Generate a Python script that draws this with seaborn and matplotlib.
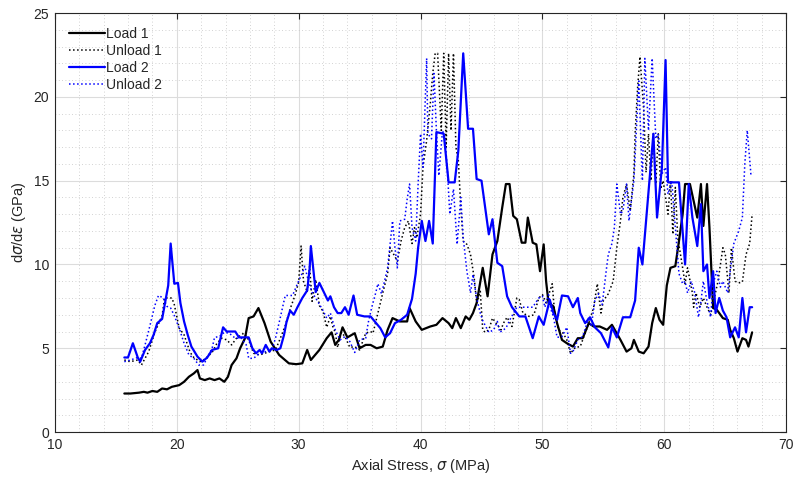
import numpy as np
import pandas as pd
import matplotlib
matplotlib.use("Agg")
import matplotlib.pyplot as plt
from matplotlib.ticker import MultipleLocator
import seaborn as sns

# ---------------- data ----------------
load1_x = [15.7, 16.2, 16.9, 17.3, 17.6, 18.0, 18.4, 18.8, 19.2, 19.6, 20.2, 20.6, 21.0, 21.4, 21.7, 21.9,
           22.3, 22.7, 23.1, 23.5, 23.9, 24.2, 24.5, 24.9, 25.2, 25.6, 25.9, 26.3, 26.7, 27.2, 27.7, 28.4,
           29.2, 29.8, 30.3, 30.7, 31.0, 31.7, 32.3, 32.7, 33.0, 33.3, 33.6, 34.0, 34.6, 35.0, 35.5, 35.9,
           36.4, 36.9, 37.3, 37.7, 38.3, 38.9, 39.1, 39.6, 40.1, 40.8, 41.3, 41.8, 42.3, 42.6, 42.9, 43.3,
           43.7, 44.0, 44.3, 44.6, 45.1, 45.5, 45.9, 46.3, 46.7, 47.0, 47.3, 47.6, 47.9, 48.3, 48.6, 48.8,
           49.2, 49.5, 49.8, 50.1, 50.3, 50.5, 50.9, 51.2, 51.6, 52.0, 52.5, 52.9, 53.3, 53.8, 54.2, 54.7,
           55.3, 55.7, 56.4, 56.9, 57.3, 57.5, 57.9, 58.3, 58.7, 59.0, 59.3, 59.6, 59.9, 60.2, 60.5, 60.9,
           61.2, 61.5, 61.7, 62.1, 62.4, 62.7, 63.0, 63.2, 63.5, 63.7, 63.9, 64.0, 64.3, 64.8, 65.2, 65.4,
           65.7, 66.0, 66.4, 66.7, 66.9, 67.2]
load1_y = [2.3, 2.3, 2.35, 2.4, 2.35, 2.45, 2.4, 2.6, 2.55, 2.7, 2.8, 3.0, 3.3, 3.5, 3.7, 3.2,
           3.1, 3.2, 3.1, 3.2, 3.0, 3.3, 4.0, 4.4, 5.0, 5.6, 6.8, 6.9, 7.4, 6.5, 5.4, 4.6,
           4.1, 4.05, 4.1, 4.9, 4.3, 4.9, 5.6, 5.95, 5.2, 5.5, 6.25, 5.65, 5.9, 5.0, 5.2, 5.2,
           5.0, 5.1, 6.1, 6.8, 6.6, 6.6, 7.4, 6.6, 6.1, 6.3, 6.4, 6.8, 6.5, 6.2, 6.8, 6.2,
           6.9, 6.7, 7.1, 7.7, 9.8, 8.1, 10.6, 11.4, 13.4, 14.8, 14.8, 12.9, 12.7, 11.3, 11.3, 12.8,
           11.3, 11.2, 9.6, 11.2, 9.0, 7.7, 7.5, 6.5, 5.5, 5.3, 5.1, 5.6, 5.6, 6.5, 6.3, 6.3,
           6.1, 6.4, 5.5, 4.8, 5.0, 5.5, 4.8, 4.7, 5.1, 6.5, 7.4, 6.7, 6.4, 8.75, 9.8, 9.9,
           11.4, 13.0, 14.8, 14.8, 13.8, 12.8, 14.8, 12.3, 14.8, 12.2, 9.0, 7.4, 7.3, 6.8, 6.7, 6.1,
           5.6, 4.8, 5.6, 5.5, 5.1, 5.95]

unload1_x = [15.7, 16.2, 16.8, 17.1, 17.7, 18.2, 18.8, 19.0, 19.6, 19.8, 20.2, 20.6, 21.1, 21.4, 21.9, 22.3,
             22.9, 23.3, 23.7, 24.1, 24.5, 24.9, 25.5, 25.9, 26.3, 26.8, 27.2, 27.6, 28.1, 28.5, 28.9, 29.3,
             29.7, 30.0, 30.2, 30.4, 30.7, 30.9, 31.1, 31.4, 31.7, 32.0, 32.3, 32.6, 32.8, 33.0, 33.2, 33.5,
             33.8, 34.2, 34.6, 35.0, 35.5, 35.9, 36.1, 36.5, 36.9, 37.3, 37.5, 37.8, 38.1, 38.4, 38.7, 39.0,
             39.3, 39.5, 39.7, 40.0, 40.2, 40.5, 40.8, 41.0, 41.2, 41.4, 41.7, 41.9, 42.1, 42.3, 42.5, 42.7,
             42.9, 43.1, 43.3, 43.5, 43.8, 44.1, 44.4, 44.6, 44.9, 45.1, 45.3, 45.6, 45.9, 46.3, 46.6, 46.8,
             47.1, 47.5, 47.9, 48.1, 48.4, 48.9, 49.3, 49.7, 50.0, 50.3, 50.8, 51.0, 51.3, 51.7, 52.0, 52.3,
             52.7, 53.1, 53.5, 53.8, 54.2, 54.5, 54.8, 55.0, 55.4, 55.8, 56.1, 56.4, 56.6, 56.9, 57.2, 57.5,
             57.6, 57.8, 58.0, 58.3, 58.5, 58.7, 58.9, 59.1, 59.3, 59.5, 59.7, 59.9, 60.3, 60.5, 60.7, 60.9,
             61.1, 61.5, 61.7, 61.9, 62.3, 62.4, 62.6, 62.9, 63.2, 63.5, 63.8, 64.1, 64.4, 64.8, 65.0, 65.3,
             65.5, 65.8, 66.1, 66.4, 66.7, 67.0, 67.2]
unload1_y = [4.3, 4.2, 4.3, 4.0, 4.8, 5.95, 6.95, 8.0, 8.0, 7.6, 6.2, 5.8, 4.75, 4.45, 4.2, 4.35,
             4.75, 5.3, 5.6, 5.5, 5.2, 5.6, 5.9, 5.5, 4.7, 4.6, 4.7, 4.8, 4.9, 5.6, 6.35, 7.35,
             8.15, 8.95, 11.1, 9.0, 8.35, 9.9, 7.8, 9.1, 7.55, 7.2, 6.25, 6.9, 6.3, 5.95, 5.05, 5.95,
             5.7, 5.05, 5.1, 4.9, 5.9, 6.0, 5.9, 7.1, 8.3, 9.45, 11.0, 10.6, 10.2, 11.4, 12.2, 12.6,
             11.25, 12.2, 11.6, 13.0, 15.8, 17.4, 19.6, 21.4, 22.6, 22.6, 18.0, 22.6, 17.0, 22.6, 18.0, 22.6,
             17.0, 16.2, 13.4, 11.4, 11.2, 10.6, 9.2, 7.7, 8.4, 6.1, 5.95, 6.1, 6.8, 6.4, 6.1, 6.5,
             6.85, 6.3, 8.0, 7.9, 7.1, 6.9, 7.0, 8.0, 8.2, 7.7, 8.85, 7.1, 6.1, 5.9, 5.5, 4.7,
             5.05, 5.1, 5.9, 6.5, 7.45, 8.85, 7.1, 7.85, 8.25, 9.0, 11.0, 12.6, 14.0, 14.8, 13.2, 15.4,
             17.8, 20.5, 22.4, 19.3, 15.5, 17.8, 15.0, 17.8, 14.8, 17.8, 14.5, 15.0, 13.0, 15.0, 11.8, 14.6,
             11.6, 9.8, 8.85, 9.8, 8.3, 7.45, 8.3, 7.45, 8.0, 7.45, 7.0, 8.0, 9.0, 11.0, 10.6, 8.3,
             11.0, 9.0, 8.9, 8.95, 10.6, 11.25, 13.0]

load2_x = [15.7, 16.0, 16.4, 16.8, 17.0, 17.4, 17.8, 18.1, 18.4, 18.8, 19.0, 19.3, 19.5, 19.8, 20.1, 20.3,
           20.6, 20.9, 21.2, 21.7, 22.1, 22.5, 22.9, 23.4, 23.8, 24.1, 24.4, 24.8, 25.1, 25.9, 26.2, 26.5,
           26.8, 27.0, 27.3, 27.6, 27.8, 28.2, 28.5, 28.8, 29.0, 29.3, 29.6, 29.9, 30.3, 30.7, 30.9, 31.0,
           31.2, 31.4, 31.7, 32.0, 32.4, 32.6, 32.9, 33.2, 33.5, 33.8, 34.1, 34.5, 34.8, 35.4, 35.9, 36.3,
           36.7, 37.1, 37.5, 37.9, 38.4, 38.9, 39.3, 39.6, 39.8, 40.1, 40.4, 40.7, 41.0, 41.3, 41.9, 42.3,
           42.8, 43.1, 43.5, 43.9, 44.3, 44.6, 45.0, 45.6, 45.9, 46.3, 46.7, 47.1, 47.5, 48.1, 48.6, 49.2,
           49.7, 50.1, 50.6, 50.9, 51.2, 51.6, 52.1, 52.5, 52.9, 53.1, 53.5, 53.9, 54.3, 54.8, 55.4, 55.7,
           56.1, 56.6, 57.2, 57.6, 57.9, 58.2, 58.5, 58.9, 59.1, 59.4, 59.8, 60.1, 60.3, 61.2, 61.5, 61.7,
           62.0, 62.3, 62.7, 63.0, 63.2, 63.5, 63.7, 64.0, 64.2, 64.5, 64.8, 65.1, 65.4, 65.8, 66.1, 66.4,
           66.7, 67.0, 67.2]
load2_y = [4.45, 4.45, 5.3, 4.45, 4.2, 4.9, 5.3, 5.8, 6.5, 6.75, 7.55, 8.75, 11.25, 8.85, 8.9, 7.7,
           6.6, 5.8, 5.1, 4.5, 4.2, 4.45, 4.9, 5.0, 6.25, 6.0, 6.0, 6.0, 5.65, 5.65, 5.0, 4.7,
           4.9, 4.7, 5.2, 4.8, 5.0, 4.9, 5.0, 5.8, 6.55, 7.25, 7.0, 7.45, 8.0, 8.45, 9.75, 11.1,
           9.75, 8.35, 8.9, 8.45, 7.85, 8.1, 7.45, 7.1, 7.1, 7.45, 7.0, 8.15, 7.0, 6.9, 6.9, 6.55,
           6.2, 5.65, 5.9, 6.5, 6.7, 7.0, 7.95, 9.45, 11.0, 12.6, 11.4, 12.6, 11.25, 17.9, 17.8, 14.9,
           14.9, 16.8, 22.6, 18.1, 18.1, 15.1, 15.0, 11.8, 12.7, 10.1, 9.9, 8.1, 7.45, 6.9, 6.9, 5.6,
           6.9, 6.4, 7.9, 7.1, 6.7, 8.15, 8.1, 7.45, 8.0, 7.1, 6.5, 6.85, 6.25, 5.9, 5.05, 6.25,
           5.65, 6.85, 6.85, 7.85, 11.0, 10.0, 12.6, 16.1, 17.8, 12.8, 15.8, 22.2, 14.9, 14.9, 12.0, 10.0,
           14.8, 12.8, 11.1, 13.6, 9.6, 10.0, 8.0, 9.6, 7.1, 8.0, 7.25, 6.85, 5.65, 6.25, 5.65, 8.0,
           5.95, 7.45, 7.45]

unload2_x = [15.7, 16.2, 16.8, 17.1, 17.4, 17.8, 18.2, 18.5, 18.9, 19.2, 19.5, 19.8, 20.2, 20.6, 21.0, 21.4,
             21.8, 22.2, 22.5, 22.9, 23.1, 23.5, 23.9, 24.3, 24.8, 25.3, 25.7, 25.9, 26.3, 26.8, 27.3, 27.8,
             28.1, 28.5, 28.9, 29.5, 29.9, 30.3, 30.5, 30.8, 31.1, 31.6, 32.0, 32.3, 32.6, 33.0, 33.4, 33.8,
             34.2, 34.6, 35.0, 35.5, 35.7, 36.0, 36.3, 36.5, 36.8, 37.3, 37.7, 37.9, 38.1, 38.3, 38.7, 38.9,
             39.1, 39.3, 39.6, 39.8, 40.0, 40.2, 40.5, 40.6, 40.9, 41.1, 41.3, 41.5, 41.8, 42.0, 42.2, 42.4,
             42.7, 43.0, 43.3, 43.5, 43.8, 44.1, 44.3, 44.6, 44.9, 45.1, 45.6, 46.0, 46.3, 46.5, 47.0, 47.4,
             47.9, 48.4, 49.2, 49.7, 50.0, 50.2, 50.5, 50.7, 50.9, 51.2, 51.6, 52.0, 52.3, 52.5, 52.9, 53.3,
             53.8, 54.0, 54.3, 54.6, 54.9, 55.2, 55.4, 55.7, 55.9, 56.1, 56.4, 56.6, 56.9, 57.1, 57.5, 57.7,
             57.9, 58.2, 58.4, 58.7, 59.0, 59.3, 59.5, 59.8, 60.1, 60.3, 60.6, 60.9, 61.2, 61.5, 61.7, 61.9,
             62.2, 62.5, 62.8, 63.0, 63.2, 63.5, 63.8, 64.0, 64.3, 64.6, 64.8, 65.2, 65.4, 65.7, 66.1, 66.4,
             66.6, 66.8, 67.1, 67.3]
unload2_y = [4.2, 4.3, 4.45, 4.4, 5.2, 6.35, 7.55, 8.15, 8.0, 7.5, 7.4, 6.95, 6.2, 5.3, 4.6, 4.4,
             4.0, 4.0, 4.45, 5.0, 5.65, 5.7, 5.95, 5.9, 5.6, 5.6, 5.2, 4.4, 4.4, 4.7, 4.8, 4.9,
             5.6, 6.85, 8.15, 8.15, 8.85, 9.5, 9.9, 9.0, 8.35, 7.75, 7.25, 6.8, 7.1, 6.1, 5.5, 5.7,
             5.4, 4.75, 5.5, 5.6, 6.5, 7.45, 8.25, 8.85, 8.25, 9.8, 12.6, 11.0, 9.8, 12.6, 12.7, 13.9,
             14.8, 12.2, 11.4, 14.8, 17.8, 15.8, 22.3, 17.8, 17.5, 21.4, 18.0, 15.3, 18.0, 17.6, 15.6, 13.0,
             14.5, 11.2, 14.0, 11.6, 9.6, 8.3, 9.4, 8.0, 7.1, 6.65, 5.95, 6.1, 6.6, 5.95, 6.2, 6.8,
             7.45, 7.45, 7.45, 8.0, 8.1, 7.45, 8.2, 7.3, 6.9, 5.65, 5.7, 6.25, 4.7, 4.8, 5.5, 5.7,
             6.85, 6.3, 7.85, 8.25, 7.6, 9.45, 10.6, 11.25, 12.2, 14.8, 13.0, 13.2, 14.8, 12.6, 15.0, 18.0,
             20.95, 15.0, 22.3, 18.0, 22.3, 17.5, 17.8, 15.4, 15.8, 14.2, 15.0, 12.2, 9.45, 8.85, 9.0, 8.3,
             9.0, 8.3, 6.85, 7.8, 9.0, 7.8, 6.85, 8.85, 9.6, 8.65, 9.0, 8.3, 9.6, 11.25, 12.0, 12.8,
             16.0, 18.0, 15.4, 15.5]

x_ticks = [10, 20, 30, 40, 50, 60, 70]
y_ticks = [0, 5, 10, 15, 20, 25]

# ---------------- plotting ----------------
sns.set_theme(style="white")
plt.rcParams['font.family'] = ['Liberation Sans', 'DejaVu Sans']
plt.rcParams['mathtext.fontset'] = 'dejavusans'

fig = plt.figure(figsize=(7.95, 4.86), dpi=100)
ax = fig.add_axes([0.069, 0.111, 0.920, 0.862])

series = [
    ("Load 1", load1_x, load1_y, "black", "-", 1.6),
    ("Unload 1", unload1_x, unload1_y, "black", ":", 1.1),
    ("Load 2", load2_x, load2_y, "#0000ff", "-", 1.6),
    ("Unload 2", unload2_x, unload2_y, "#0000ff", ":", 1.1),
]
for name, xs, ys, col, ls, lw in series:
    df = pd.DataFrame({"x": xs, "y": ys})
    sns.lineplot(data=df, x="x", y="y", ax=ax, color=col, linestyle=ls,
                 linewidth=lw, sort=False, estimator=None, label=name)

ax.set_xlim(10, 70)
ax.set_ylim(0, 25)
ax.set_xticks(x_ticks)
ax.set_yticks(y_ticks)
ax.xaxis.set_minor_locator(MultipleLocator(2))
ax.yaxis.set_minor_locator(MultipleLocator(1))
ax.grid(which='major', color='#dcdcdc', linestyle='-', linewidth=0.8)
ax.grid(which='minor', color='#c4c4c4', linestyle=(0, (1, 3)), linewidth=0.6)
ax.set_axisbelow(True)
ax.tick_params(which='major', direction='in', length=4, width=0.8, colors='#262626',
               top=True, right=True, labelsize=10, pad=4)
ax.tick_params(which='minor', length=0)
for s in ax.spines.values():
    s.set_color('#262626')
    s.set_linewidth(0.8)

ax.set_xlabel(r'Axial Stress, $\sigma$ (MPa)', fontsize=10.5, color='#262626', labelpad=4)
ax.set_ylabel(r'd$\sigma$/d$\epsilon$ (GPa)', fontsize=10.5, color='#262626', labelpad=4)

leg = ax.legend(loc='upper left', frameon=False, fontsize=10, handlelength=2.6,
                handletextpad=0.1, labelspacing=0.22, borderaxespad=0.8, borderpad=0.2)

fig.savefig("out.png", dpi=100)
